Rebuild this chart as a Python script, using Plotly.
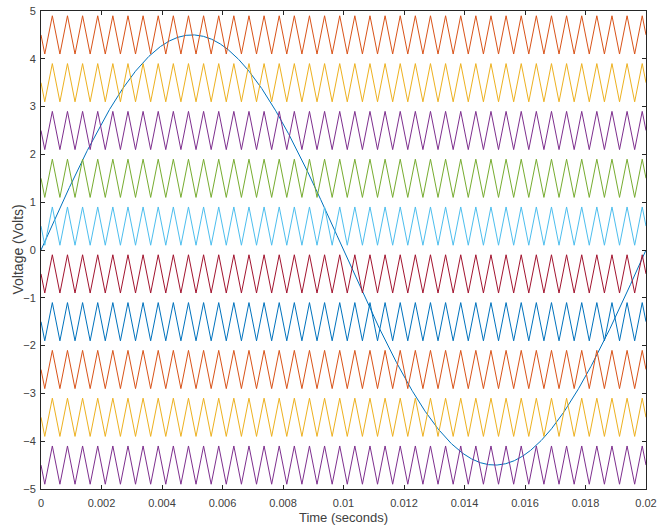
import numpy as np
import plotly.graph_objects as go

# ---- values ----
sine_amplitude = 4.5          # volts
sine_frequency = 50.0         # Hz (one full period over 0.02 s)
carrier_frequency = 2000.0    # Hz (40 cycles over 0.02 s)
carrier_amplitude = 0.4       # half peak-to-peak of each carrier
carrier_centers = [4.5, 3.5, 2.5, 1.5, 0.5, -0.5, -1.5, -2.5, -3.5, -4.5]
carrier_colors = ["#D95319", "#EDB120", "#7E2F8E", "#77AC30", "#4DBEEE",
                  "#A2142F", "#0072BD", "#D95319", "#EDB120", "#7E2F8E"]
sine_color = "#0072BD"
t_end = 0.02
x_tick_vals = [0, 0.002, 0.004, 0.006, 0.008, 0.01, 0.012, 0.014, 0.016, 0.018, 0.02]
x_tick_text = ["0", "0.002", "0.004", "0.006", "0.008", "0.01", "0.012", "0.014", "0.016", "0.018", "0.02"]
y_tick_vals = [-5, -4, -3, -2, -1, 0, 1, 2, 3, 4, 5]
x_title = "Time (seconds)"
y_title = "Voltage (Volts)"

# ---- build traces ----
fig = go.Figure()

t = np.linspace(0, t_end, 2001)
fig.add_trace(go.Scatter(x=t, y=sine_amplitude * np.sin(2 * np.pi * sine_frequency * t),
                         mode="lines", line=dict(color=sine_color, width=1),
                         showlegend=False))

# triangle carriers: vertices only (piecewise linear)
period = 1.0 / carrier_frequency
vt = [0.0]
vs = [0.0]
k = 0
while True:
    tk = (2 * k + 1) * period / 4
    if tk > t_end + 1e-12:
        break
    vt.append(tk)
    vs.append(-1.0 if k % 2 == 0 else 1.0)
    k += 1
vt.append(t_end)
vs.append(0.0)
vt = np.array(vt)
vs = np.array(vs)

for c, col in zip(carrier_centers, carrier_colors):
    fig.add_trace(go.Scatter(x=vt, y=c + carrier_amplitude * vs, mode="lines",
                             line=dict(color=col, width=1), showlegend=False))

font_family = "Liberation Sans, Arial, sans-serif"
axis_font = dict(family=font_family, size=11, color="#404040")
xtitle_font = dict(family=font_family, size=13, color="#404040")
ytitle_font = dict(family=font_family, size=14, color="#404040")
W, H = 657, 529
ml, mr, mt, mb = 41, 11, 11, 40
fig.update_layout(
    width=W, height=H,
    margin=dict(l=ml, r=mr, t=mt, b=mb),
    paper_bgcolor="white", plot_bgcolor="white",
    font=axis_font,
    xaxis=dict(range=[0, t_end], tickvals=x_tick_vals, ticktext=x_tick_text,
               ticks="inside", ticklen=4, tickcolor="#262626", tickwidth=1,
               showline=True, linecolor="#262626", linewidth=1, mirror="ticks",
               showgrid=False, zeroline=False, automargin=False,
               tickfont=axis_font, ticklabelstandoff=4,
               title=dict(text=x_title, font=xtitle_font, standoff=4)),
    yaxis=dict(range=[-5, 5], tickvals=y_tick_vals,
               ticks="inside", ticklen=4, tickcolor="#262626", tickwidth=1,
               showline=True, linecolor="#262626", linewidth=1, mirror="ticks",
               showgrid=False, zeroline=False, automargin=False,
               tickfont=axis_font, ticklabelstandoff=2),
    annotations=[dict(text=y_title, textangle=-90, font=ytitle_font,
                      xref="paper", yref="paper",
                      x=(17.5 - ml) / (W - ml - mr), y=0.5,
                      xanchor="center", yanchor="middle", showarrow=False)],
)

fig.write_html("out.html", config={"displayModeBar": False},
               post_script="document.body.style.margin='0';")
